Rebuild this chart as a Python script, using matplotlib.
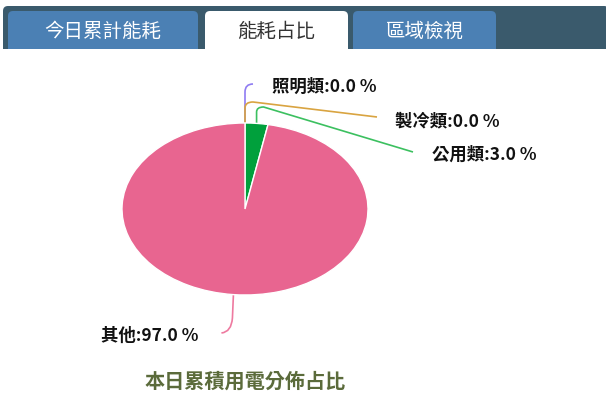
import numpy as np
import matplotlib.pyplot as plt
from matplotlib.patches import FancyBboxPatch, Rectangle
from matplotlib.path import Path
from matplotlib.patches import PathPatch

plt.rcParams['font.family'] = ['Noto Sans CJK TC', 'DejaVu Sans']

tabs = ['今日累計能耗', '能耗占比', '區域檢視']
active_tab = 1
categories = ['照明類', '製冷類', '公用類', '其他']
shares = [0.0, 0.0, 3.0, 97.0]
slice_colors = ['#8f7cf2', '#d9a441', '#00a03c', '#e86590']
line_colors = ['#8f7cf2', '#d9a441', '#3cc060', '#ee7aa0']
title = '本日累積用電分佈占比'

W, H = 606, 394
fig = plt.figure(figsize=(W / 100, H / 100), dpi=100)

# pixel-space layer for the tab bar, labels and leader lines
bg = fig.add_axes([0, 0, 1, 1])
bg.set_xlim(0, W)
bg.set_ylim(H, 0)
bg.axis('off')

# pie centre and radii in pixels (the pie is stretched into an ellipse)
cx, cy, rx, ry = 245, 209, 123, 86
pie_ax = fig.add_axes([(cx - rx) / W, 1 - (cy + ry) / H, 2 * rx / W, 2 * ry / H])
wedges, _ = pie_ax.pie(shares, colors=slice_colors, startangle=90, counterclock=False,
                       radius=1, wedgeprops=dict(edgecolor='white', linewidth=1))
pie_ax.set_aspect('auto')
pie_ax.set_xlim(-1, 1)
pie_ax.set_ylim(-1, 1)
pie_ax.axis('off')

# tab bar
bg.add_patch(FancyBboxPatch((3, 6), W, 50, boxstyle='round,pad=0,rounding_size=5',
                            fc='#3a5a6c', ec='none'))
tab_x = [(8, 198), (205, 348), (353, 496)]
for i, (name, (x0, x1)) in enumerate(zip(tabs, tab_x)):
    fc = 'white' if i == active_tab else '#4b80b4'
    tc = '#333333' if i == active_tab else 'white'
    bg.add_patch(FancyBboxPatch((x0, 11), x1 - x0, 48, boxstyle='round,pad=0,rounding_size=5',
                                fc=fc, ec='none'))
    bg.text((x0 + x1) / 2, 31, name, color=tc, fontsize=14, ha='center', va='center')
bg.add_patch(Rectangle((0, 49), W, 20, fc='white', ec='none'))


def ellipse_point(deg):
    a = np.deg2rad(deg)
    return cx + rx * np.cos(a), cy - ry * np.sin(a)


# mid angle of each wedge, clockwise from 12 o'clock
ends = np.cumsum(shares) / sum(shares) * 360
mids = 90 - (ends - np.array(shares) / sum(shares) * 180)

label_pos = [(272, 87, 'left'), (395, 121, 'left'), (432, 155, 'left'), (198, 336, 'right')]
for i, (name, val) in enumerate(zip(categories, shares)):
    x0, y0 = ellipse_point(mids[i])
    if i == 0:
        verts = [(x0, y0), (x0, 92), (x0, 84), (x0 + 8, 84)]
        codes = [Path.MOVETO, Path.LINETO, Path.CURVE3, Path.CURVE3]
    elif i == 1:
        verts = [(x0, y0), (x0, 108), (x0, 102), (x0 + 8, 102), (377, 117)]
        codes = [Path.MOVETO, Path.LINETO, Path.CURVE3, Path.CURVE3, Path.LINETO]
    elif i == 2:
        verts = [(x0, y0), (x0, 112), (x0, 107), (x0 + 7, 107), (413, 152)]
        codes = [Path.MOVETO, Path.LINETO, Path.CURVE3, Path.CURVE3, Path.LINETO]
    else:
        verts = [(x0, y0), (x0 - 1, 318), (x0 - 2, 332), (x0 - 12, 333)]
        codes = [Path.MOVETO, Path.LINETO, Path.CURVE3, Path.CURVE3]
    bg.add_patch(PathPatch(Path(verts, codes), fc='none', ec=line_colors[i], lw=1.2))
    lx, ly, ha = label_pos[i]
    bg.text(lx, ly, f'{name}:{val:.1f} %', fontsize=12.5, fontweight='bold',
            color='#111111', ha=ha, va='center')

bg.text(cx, 381, title, fontsize=14.5, fontweight='bold', color='#5b6b3b',
        ha='center', va='center')

fig.savefig('out.png', dpi=100)
